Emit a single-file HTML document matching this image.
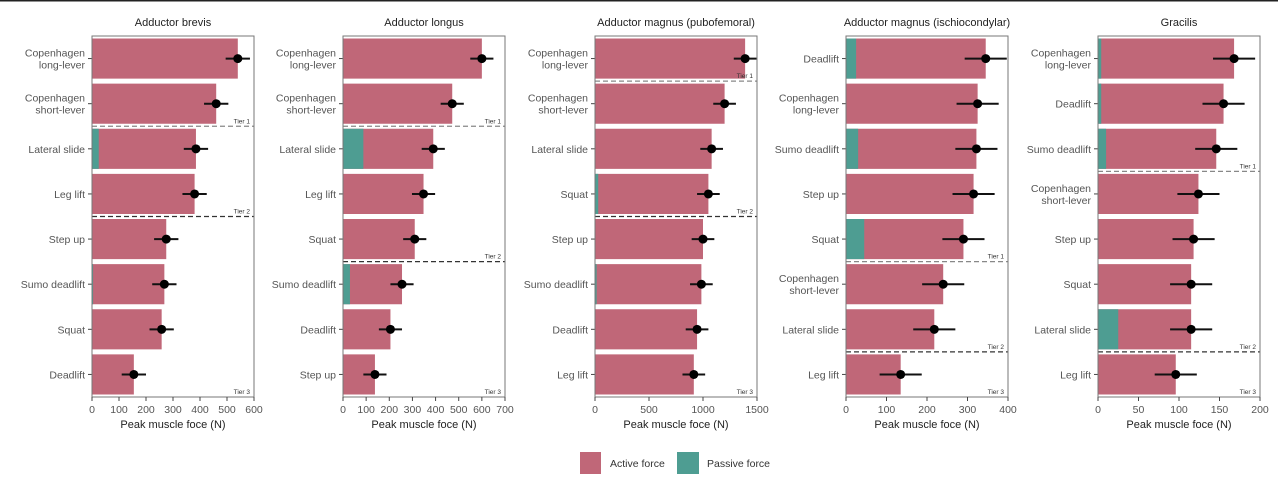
<!DOCTYPE html>
<html><head><meta charset="utf-8"><style>
body{margin:0;background:#fff;width:1278px;height:483px;overflow:hidden;font-family:"Liberation Sans",sans-serif}
svg{position:absolute;left:0;top:0}
</style></head><body>
<svg id="chart" width="1278" height="483" xmlns="http://www.w3.org/2000/svg"></svg>
<script>
const titles=["Adductor brevis","Adductor longus","Adductor magnus (pubofemoral)","Adductor magnus (ischiocondylar)","Gracilis"];
const cats1=["Copenhagen\nlong-lever","Copenhagen\nshort-lever","Lateral slide","Leg lift","Step up","Sumo deadlift","Squat","Deadlift"];
const total1=[540,460,385,380,275,268,258,155];
const passive1=[0,0,25,0,0,4,0,0];
const err1=[45,45,45,45,45,45,45,45];
const cats2=["Copenhagen\nlong-lever","Copenhagen\nshort-lever","Lateral slide","Leg lift","Squat","Sumo deadlift","Deadlift","Step up"];
const total2=[600,472,390,348,310,255,205,138];
const passive2=[0,0,88,0,0,30,0,0];
const err2=[50,50,50,50,50,50,50,50];
const cats3=["Copenhagen\nlong-lever","Copenhagen\nshort-lever","Lateral slide","Squat","Step up","Sumo deadlift","Deadlift","Leg lift"];
const total3=[1390,1200,1080,1050,1000,985,945,915];
const passive3=[0,0,0,30,0,15,0,0];
const err3=[105,105,105,105,105,105,105,105];
const cats4=["Deadlift","Copenhagen\nlong-lever","Sumo deadlift","Step up","Squat","Copenhagen\nshort-lever","Lateral slide","Leg lift"];
const total4=[345,325,322,315,290,240,218,135];
const passive4=[25,0,30,0,45,0,0,0];
const err4=[52,52,52,52,52,52,52,52];
const cats5=["Copenhagen\nlong-lever","Deadlift","Sumo deadlift","Copenhagen\nshort-lever","Step up","Squat","Lateral slide","Leg lift"];
const total5=[168,155,146,124,118,115,115,96];
const passive5=[4,4,10,0,0,0,25,0];
const err5=[26,26,26,26,26,26,26,26];
const ticks=[[0,100,200,300,400,500,600],[0,100,200,300,400,500,600,700],[0,500,1000,1500],[0,100,200,300,400],[0,50,100,150,200]];
const tiers=[[2,4],[2,5],[1,4],[5,7],[3,7]];
const panels=[[cats1,total1,passive1,err1],[cats2,total2,passive2,err2],[cats3,total3,passive3,err3],[cats4,total4,passive4,err4],[cats5,total5,passive5,err5]];
const x0s=[92,343,595,846,1098];
const W=162,TOP=36,BOT=397,NS="http://www.w3.org/2000/svg";
const svg=document.getElementById('chart');
function mk(t,a,p){const e=document.createElementNS(NS,t);for(const k in a)e.setAttribute(k,a[k]);(p||svg).appendChild(e);return e;}
mk('rect',{x:0,y:0,width:1278,height:1.5,fill:'#222'});
const ACT="#c06778",PAS="#4e9d92";
panels.forEach((pd,pi)=>{
  const [cats,tot,pas,err]=pd;const x0=x0s[pi];const tk=ticks[pi];const max=tk[tk.length-1];
  const xs=v=>x0+v/max*W;const slot=(BOT-TOP)/cats.length;
  const g=mk('g',{});
  
  
  const t=mk('text',{x:x0+W/2,y:26,'text-anchor':'middle','font-size':11,fill:'#222'},g);t.textContent=titles[pi];
  
  cats.forEach((c,i)=>{
    const yc=TOP+slot*(i+0.5),bh=slot-5,y=yc-bh/2;
    const b=mk('rect',{x:xs(0),y:y,width:xs(tot[i])-xs(0),height:bh,fill:ACT},g);
    
    if(pas[i]>0){const p=mk('rect',{x:xs(0),y:y,width:xs(pas[i])-xs(0),height:bh,fill:PAS},g);
      }
    const e=mk('line',{x1:xs(tot[i]-err[i]),x2:Math.min(xs(tot[i]+err[i]),x0+W),y1:yc,y2:yc,stroke:'#111','stroke-width':2},g);
    
    const d=mk('circle',{cx:xs(tot[i]),cy:yc,r:4.5,fill:'#000'},g);
    
    mk('line',{x1:x0-4,x2:x0,y1:yc,y2:yc,stroke:'#444'},g);
    const lines=c.split('\n');
    lines.forEach((ln,li)=>{const tt=mk('text',{x:x0-7,y:yc+4+(li-(lines.length-1)/2)*12,'text-anchor':'end','font-size':10.5,fill:'#555'},g);tt.textContent=ln;
      });
  });
  tiers[pi].forEach((ti,k)=>{const y=TOP+slot*ti;
    mk('line',{x1:x0,x2:x0+W,y1:y,y2:y,stroke:k==0?'#888':'#333','stroke-width':1.3,'stroke-dasharray':'5,3'},g);
    const l=mk('text',{x:x0+W-4,y:y-3,'text-anchor':'end','font-size':6.5,fill:'#333'},g);l.textContent='Tier '+(k+1);
    });
  const l3=mk('text',{x:x0+W-4,y:BOT-3,'text-anchor':'end','font-size':6.5,fill:'#333'},g);l3.textContent='Tier 3';
  mk('rect',{x:x0,y:TOP,width:W,height:BOT-TOP,fill:'none',stroke:'#777','stroke-width':1},g);
  tk.forEach(v=>{mk('line',{x1:xs(v),x2:xs(v),y1:BOT,y2:BOT+4,stroke:'#444'},g);
    const tl=mk('text',{x:xs(v),y:BOT+16,'text-anchor':'middle','font-size':10.5,fill:'#555'},g);tl.textContent=v;
    });
  const ax=mk('text',{x:x0+W/2,y:428,'text-anchor':'middle','font-size':11,fill:'#222'},g);ax.textContent='Peak muscle foce (N)';
  
});
const lg=mk('g',{});

mk('rect',{x:580,y:452,width:21,height:22,fill:ACT},lg);
const a=mk('text',{x:610,y:467,'font-size':10.5,fill:'#333'},lg);a.textContent='Active force';

mk('rect',{x:677,y:452,width:22,height:22,fill:PAS},lg);
const p=mk('text',{x:707,y:467,'font-size':10.5,fill:'#333'},lg);p.textContent='Passive force';

</script>
</body></html>
